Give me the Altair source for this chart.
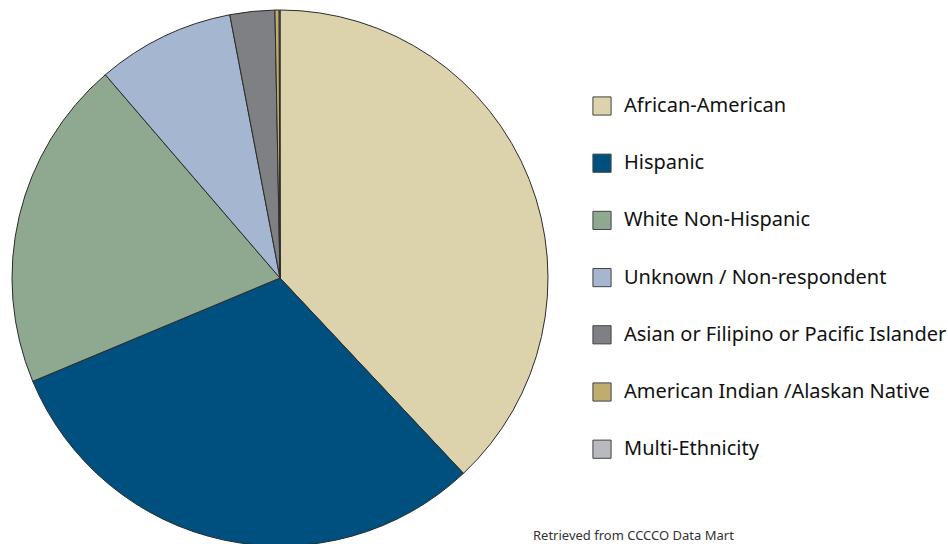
import altair as alt
import pandas as pd

categories = [
    "African-American",
    "Hispanic",
    "White Non-Hispanic",
    "Unknown / Non-respondent",
    "Asian or Filipino or Pacific Islander",
    "American Indian /Alaskan Native",
    "Multi-Ethnicity",
]
shares = [38.0, 30.7, 20.0, 8.3, 2.7, 0.25, 0.05]
colors = ["#DCD3AD", "#00507F", "#8FA991", "#A5B7D0", "#7F8084", "#BFAD70", "#B9BABE"]
caption = ["Retrieved from CCCCO Data Mart"]

df = pd.DataFrame({"group": categories, "share": shares, "idx": list(range(len(categories)))})

FONT = "Noto Sans"

pie = alt.Chart(df).mark_arc(radius=268, stroke="#2b2b2b", strokeWidth=1).encode(
    theta=alt.Theta("share:Q", stack=True),
    order=alt.Order("idx:Q"),
    color=alt.Color(
        "group:N",
        scale=alt.Scale(domain=categories, range=colors),
        sort=categories,
        legend=alt.Legend(
            title=None,
            orient="none",
            legendX=592,
            legendY=96,
            symbolType="square",
            symbolSize=330,
            symbolStrokeColor="#444",
            symbolStrokeWidth=1,
            symbolOpacity=1,
            labelFontSize=20,
            labelFont=FONT,
            labelColor="#111",
            labelOffset=12,
            rowPadding=33.2,
            labelLimit=400,
        ),
    ),
    x=alt.value(280),
    y=alt.value(278),
)

cap = alt.Chart(pd.DataFrame({"t": caption})).mark_text(
    font=FONT, fontSize=13, color="#333", align="left", baseline="middle"
).encode(text="t:N", x=alt.value(533), y=alt.value(536))

chart = alt.layer(pie, cap).properties(
    width=948, height=544, padding=0, autosize=alt.AutoSizeParams(type="none")
).configure_view(stroke=None)

chart.save("out.html", embed_options={"renderer": "svg", "actions": False})
